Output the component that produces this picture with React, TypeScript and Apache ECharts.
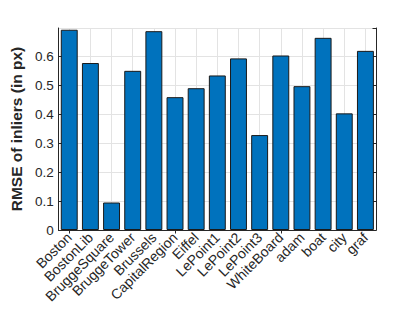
import React, { useEffect, useRef } from "react";
import * as echarts from "echarts";

const categories = [
  "Boston", "BostonLib", "BruggeSquare", "BruggeTower", "Brussels", "CapitalRegion",
  "Eiffel", "LePoint1", "LePoint2", "LePoint3", "WhiteBoard", "adam", "boat", "city", "graf",
];
const rmseValues = [
  0.692, 0.577, 0.095, 0.55, 0.687, 0.459, 0.49, 0.534, 0.593, 0.328, 0.603, 0.497, 0.664, 0.403, 0.619,
];
const yTitle = "RMSE of inliers (in px)";

const AXIS = "#262626";
const GRIDC = "#e3e3e3";
const FONT = "'Liberation Sans', Arial, Helvetica, sans-serif";

export default function App() {
  const ref = useRef<HTMLDivElement>(null);
  useEffect(() => {
    if (!ref.current) return;
    const chart = echarts.init(ref.current, undefined, { renderer: "svg" });
    const tick = { show: true, inside: true, length: 3.5, lineStyle: { color: AXIS, width: 1 } };
    chart.setOption({
      animation: false,
      backgroundColor: "#ffffff",
      grid: { left: 54, top: 28, right: 39, bottom: 81, containLabel: false },
      xAxis: [
        {
          type: "category",
          data: categories,
          position: "bottom",
          axisLine: { show: true, lineStyle: { color: AXIS, width: 1 } },
          axisTick: { ...tick, alignWithLabel: true },
          splitLine: { show: true, alignWithLabel: true, lineStyle: { color: GRIDC, width: 1 } },
          axisLabel: {
            rotate: 45,
            interval: 0,
            margin: 5,
            color: AXIS,
            fontFamily: FONT,
            fontSize: 14,
          },
        },
        {
          type: "category",
          data: categories,
          position: "top",
          axisLine: { show: true, lineStyle: { color: AXIS, width: 1 } },
          axisTick: { ...tick, alignWithLabel: true },
          axisLabel: { show: false },
          splitLine: { show: false },
        },
      ],
      yAxis: [
        {
          type: "value",
          min: 0,
          max: 0.698,
          interval: 0.1,
          position: "left",
          name: yTitle,
          nameLocation: "middle",
          nameGap: 30,
          nameTextStyle: { color: AXIS, fontFamily: FONT, fontSize: 15.5, fontWeight: "bold" },
          axisLine: { show: true, lineStyle: { color: AXIS, width: 1 } },
          axisTick: tick,
          splitLine: { show: true, lineStyle: { color: GRIDC, width: 1 } },
          axisLabel: {
            color: AXIS,
            fontFamily: FONT,
            fontSize: 13.5,
            margin: 5,
            showMaxLabel: false,
            formatter: (v: number) => (v === 0 ? "0" : v.toFixed(1)),
          },
        },
        {
          type: "value",
          min: 0,
          max: 0.698,
          interval: 0.1,
          position: "right",
          axisLine: { show: true, lineStyle: { color: AXIS, width: 1 } },
          axisTick: tick,
          splitLine: { show: false },
          axisLabel: { show: false },
        },
      ],
      series: [
        {
          type: "bar",
          data: rmseValues,
          xAxisIndex: 0,
          yAxisIndex: 0,
          barCategoryGap: "20%",
          itemStyle: { color: "#0072BD", borderColor: "#1a1a1a", borderWidth: 1 },
        },
      ],
    });
    return () => chart.dispose();
  }, []);
  return <div ref={ref} style={{ width: 415, height: 311, position: "absolute", left: 0, top: 0 }} />;
}
